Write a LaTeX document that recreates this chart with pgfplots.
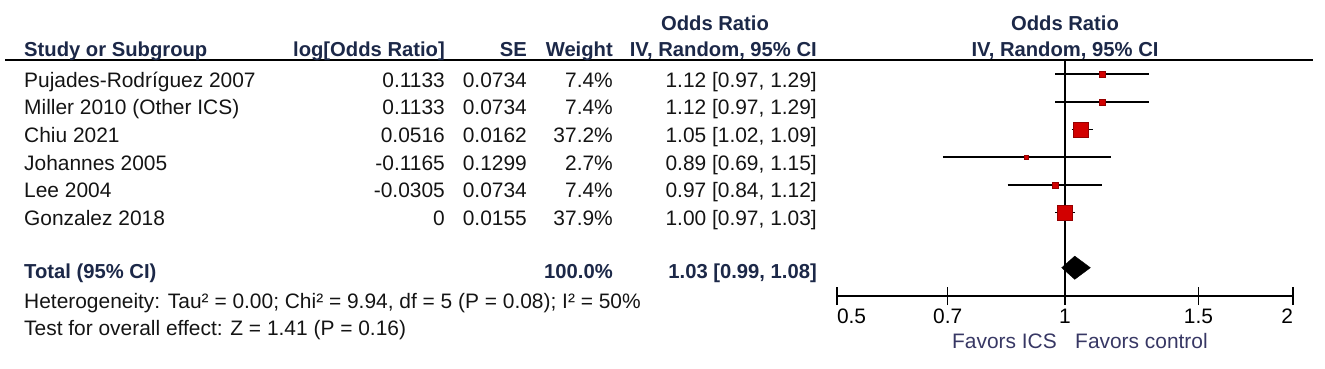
\documentclass[border=0pt]{standalone}
\usepackage{fontspec}
\setmainfont{Liberation Sans}
\usepackage{pgfplots}
\pgfplotsset{compat=1.18}
\definecolor{hdr}{RGB}{28,40,72}
\definecolor{fav}{RGB}{55,55,100}
\definecolor{sqfill}{RGB}{210,0,0}
\definecolor{sqdraw}{RGB}{150,0,0}
\definecolor{txt}{RGB}{20,20,20}
\newcommand{\fs}{\fontsize{21}{24}\selectfont}
\newcommand{\fb}{\fontsize{20.3}{24}\selectfont\bfseries}
\begin{document}
\begin{tikzpicture}[x=1bp,y=1bp]
\path[use as bounding box] (0,0) rectangle (1325,-368);
% header rule
\draw[line width=1.6bp] (5,-60) -- (1313,-60);
% headers
\begin{scope}[every node/.style={font=\fb, text=hdr, inner sep=0pt}]
\node[anchor=base] at (715,-30) {Odds Ratio};
\node[anchor=base] at (1065,-30) {Odds Ratio};
\node[anchor=base west] at (24,-56) {Study or Subgroup};
\node[anchor=base east] at (445,-56) {log[Odds Ratio]};
\node[anchor=base east] at (527,-56) {SE};
\node[anchor=base east] at (613,-56) {Weight};
\node[anchor=base east] at (817,-56) {IV, Random, 95\% CI};
\node[anchor=base] at (1065,-56) {IV, Random, 95\% CI};
\node[anchor=base west] at (24,-278) {Total (95\% CI)};
\node[anchor=base east] at (613,-278) {100.0\%};
\node[anchor=base east] at (817,-278) {1.03 [0.99, 1.08]};
\end{scope}
% study rows
\begin{scope}[every node/.style={font=\fs, text=txt, inner sep=0pt}]
\foreach \i/\name/\lor/\se/\w/\ci in {
 1/Pujades-Rodríguez 2007/0.1133/0.0734/7.4\%/{1.12 [0.97, 1.29]},
 2/Miller 2010 (Other ICS)/0.1133/0.0734/7.4\%/{1.12 [0.97, 1.29]},
 3/Chiu 2021/0.0516/0.0162/37.2\%/{1.05 [1.02, 1.09]},
 4/Johannes 2005/-0.1165/0.1299/2.7\%/{0.89 [0.69, 1.15]},
 5/Lee 2004/-0.0305/0.0734/7.4\%/{0.97 [0.84, 1.12]},
 6/Gonzalez 2018/0/0.0155/37.9\%/{1.00 [0.97, 1.03]}}{
 \pgfmathsetmacro{\yb}{-(46.3+27.7*\i+13)}
 \node[anchor=base west] at (24,\yb) {\name};
 \node[anchor=base east] at (445,\yb) {\lor};
 \node[anchor=base east] at (527,\yb) {\se};
 \node[anchor=base east] at (613,\yb) {\w};
 \node[anchor=base east] at (817,\yb) {\ci};
}
\node[anchor=base west] at (24,-308) {Heterogeneity: Tau² = 0.00; Chi² = 9.94, df = 5 (P = 0.08); I² = 50\%};
\node[anchor=base west] at (24,-335) {Test for overall effect: Z = 1.41 (P = 0.16)};
\end{scope}
\node[anchor=base east, font=\fs, text=fav, inner sep=0pt] at (1057,-348) {Favors ICS};
\node[anchor=base west, font=\fs, text=fav, inner sep=0pt] at (1075,-348) {Favors control};
% forest plot
\begin{axis}[
  at={(837bp,-296bp)}, anchor=south west,
  width=456bp, height=236bp, scale only axis,
  xmode=log, xmin=0.5, xmax=2,
  ymin=-9.0235, ymax=-0.4874,
  axis x line*=bottom, axis y line=none,
  x axis line style={line width=1.5bp, -},
  xtick={0.5,0.7,1,1.5,2},
  xticklabels={\makebox[0pt][l]{0.5},0.7,1,1.5,\makebox[0pt][r]{2}},
  minor xtick={},
  major tick length=18bp, tick align=center,
  tick style={line width=1.5bp, black},
  xticklabel style={font=\fs, text=black, inner sep=0pt, yshift=-4bp},
  clip=false,
]
\draw[line width=1.5bp] (axis cs:1,-0.4874) -- (axis cs:1,-9.0235);
% confidence intervals
\addplot[black, line width=1.5bp] coordinates {(0.97,-1) (1.29,-1)};
\addplot[black, line width=1.5bp] coordinates {(0.97,-2) (1.29,-2)};
\addplot[black, line width=1.5bp] coordinates {(1.02,-3) (1.09,-3)};
\addplot[black, line width=1.5bp] coordinates {(0.69,-4) (1.15,-4)};
\addplot[black, line width=1.5bp] coordinates {(0.84,-5) (1.12,-5)};
\addplot[black, line width=1.5bp] coordinates {(0.97,-6) (1.03,-6)};
% point estimates (square area ~ weight)
\pgfplotsset{sq/.style={only marks, mark=square*, mark options={fill=sqfill, draw=sqdraw, line width=0.5bp}}}
\addplot[sq, mark size=3.0bp] coordinates {(1.12,-1)};
\addplot[sq, mark size=3.0bp] coordinates {(1.12,-2)};
\addplot[sq, mark size=7.4bp] coordinates {(1.05,-3)};
\addplot[sq, mark size=2.0bp] coordinates {(0.89,-4)};
\addplot[sq, mark size=3.0bp] coordinates {(0.97,-5)};
\addplot[sq, mark size=7.5bp] coordinates {(1.00,-6)};
% pooled estimate
\addplot[fill=black, draw=black] coordinates {(0.99,-8) (1.03,-7.58) (1.08,-8) (1.03,-8.42)} -- cycle;
\end{axis}
\end{tikzpicture}
\end{document}
